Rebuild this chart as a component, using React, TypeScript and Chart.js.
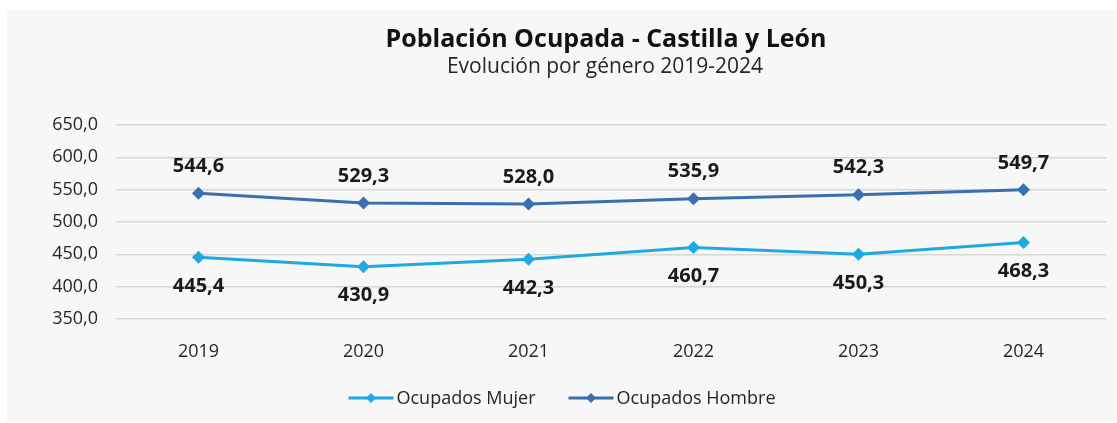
import React, { useEffect, useRef } from "react";
import { Chart, registerables } from "chart.js";

Chart.register(...registerables);

const categories = ["2019", "2020", "2021", "2022", "2023", "2024"];
const mujer = [445.4, 430.9, 442.3, 460.7, 450.3, 468.3];
const hombre = [544.6, 529.3, 528.0, 535.9, 542.3, 549.7];
const seriesNames = ["Ocupados Mujer", "Ocupados Hombre"];
const titleText = "Población Ocupada - Castilla y León";
const subtitleText = "Evolución por género 2019-2024";

const COLOR_MUJER = "#1fa9e3";
const COLOR_HOMBRE = "#3a6fb1";
const FONT = "'Open Sans', 'Noto Sans', sans-serif";

const fmt = (v: number) => v.toFixed(1).replace(".", ",");

function drawDiamond(ctx: CanvasRenderingContext2D, x: number, y: number, r: number, color: string) {
  ctx.save();
  ctx.fillStyle = color;
  ctx.beginPath();
  ctx.moveTo(x, y - r);
  ctx.lineTo(x + r, y);
  ctx.lineTo(x, y + r);
  ctx.lineTo(x - r, y);
  ctx.closePath();
  ctx.fill();
  ctx.restore();
}

const decorPlugin = {
  id: "decor",
  afterDatasetsDraw(chart: any) {
    const ctx: CanvasRenderingContext2D = chart.ctx;
    const area = chart.chartArea;
    ctx.save();
    // data labels
    ctx.font = `bold 20px ${FONT}`;
    ctx.fillStyle = "#1a1a1a";
    ctx.textAlign = "center";
    ctx.textBaseline = "middle";
    chart.data.datasets.forEach((ds: any, i: number) => {
      const meta = chart.getDatasetMeta(i);
      const off = ds.labelOffset as number;
      meta.data.forEach((pt: any, j: number) => {
        ctx.fillText(fmt(ds.data[j]), pt.x, pt.y + off);
      });
    });
    // title + subtitle
    const cx = (area.left + area.right) / 2;
    ctx.textBaseline = "alphabetic";
    ctx.font = `bold 25px ${FONT}`;
    ctx.fillStyle = "#111111";
    ctx.fillText(titleText, cx - 5, 37);
    ctx.font = `21px ${FONT}`;
    ctx.fillStyle = "#262626";
    ctx.fillText(subtitleText, cx - 6, 63);
    // legend
    ctx.font = `18px ${FONT}`;
    const lineW = 45;
    const gapText = 3;
    const gapItem = 33;
    const items = chart.data.datasets.map((ds: any) => ({
      label: ds.label as string,
      color: ds.borderColor as string,
      w: lineW + gapText + ctx.measureText(ds.label).width,
    }));
    const total = items.reduce((s: number, it: any) => s + it.w, 0) + gapItem * (items.length - 1);
    let x = chart.width / 2 - total / 2;
    const y = 388;
    ctx.textAlign = "left";
    ctx.textBaseline = "middle";
    items.forEach((it: any) => {
      ctx.strokeStyle = it.color;
      ctx.lineWidth = 3;
      ctx.beginPath();
      ctx.moveTo(x, y);
      ctx.lineTo(x + lineW, y);
      ctx.stroke();
      drawDiamond(ctx, x + lineW / 2, y, 5, it.color);
      ctx.fillStyle = "#262626";
      ctx.fillText(it.label, x + lineW + gapText, y + 1);
      x += it.w + gapItem;
    });
    ctx.restore();
  },
};

export default function App() {
  const ref = useRef<HTMLCanvasElement | null>(null);
  useEffect(() => {
    if (!ref.current) return;
    const chart = new Chart(ref.current, {
      type: "line",
      data: {
        labels: categories,
        datasets: [
          {
            label: seriesNames[0],
            data: mujer,
            borderColor: COLOR_MUJER,
            backgroundColor: COLOR_MUJER,
            borderWidth: 3,
            pointStyle: "rectRot",
            pointRadius: 6.5,
            pointBorderWidth: 0,
            tension: 0,
            labelOffset: 29,
          } as any,
          {
            label: seriesNames[1],
            data: hombre,
            borderColor: COLOR_HOMBRE,
            backgroundColor: COLOR_HOMBRE,
            borderWidth: 3,
            pointStyle: "rectRot",
            pointRadius: 6.5,
            pointBorderWidth: 0,
            tension: 0,
            labelOffset: -27,
          } as any,
        ],
      },
      options: {
        responsive: false,
        animation: false,
        devicePixelRatio: 1,
        layout: { padding: { top: 115, left: 0, right: 11, bottom: 62 } },
        plugins: {
          legend: { display: false },
          title: { display: false },
          tooltip: { enabled: false },
        },
        scales: {
          x: {
            type: "category",
            offset: true,
            grid: { display: false },
            border: { display: false },
            ticks: {
              padding: 14,
              color: "#262626",
              font: { family: FONT, size: 18 },
              maxRotation: 0,
            },
            afterFit: (s: any) => {
              s.height = 40;
            },
          },
          y: {
            min: 350,
            max: 650,
            border: { display: false },
            grid: { color: "#d6d6d6", lineWidth: 1.6, drawTicks: false },
            ticks: {
              stepSize: 50,
              padding: 18,
              color: "#262626",
              font: { family: FONT, size: 18 },
              callback: (v: any) => fmt(Number(v)),
            },
            afterFit: (s: any) => {
              s.width = 109;
            },
          },
        },
      },
      plugins: [decorPlugin],
    });
    return () => chart.destroy();
  }, []);
  return (
    <div
      style={{
        position: "absolute",
        left: 7,
        top: 10,
        width: 1110,
        height: 411,
        background: "#f7f7f7",
      }}
    >
      <canvas ref={ref} width={1110} height={411} style={{ display: "block" }} />
    </div>
  );
}
